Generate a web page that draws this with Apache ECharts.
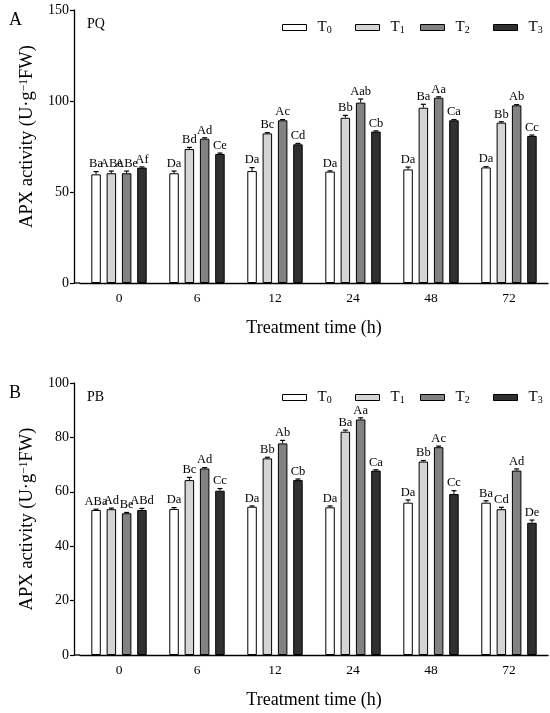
<!DOCTYPE html>
<html>
<head>
<meta charset="utf-8">
<script src="https://cdn.jsdelivr.net/npm/echarts@6/dist/echarts.min.js"></script>
<style>html,body{margin:0;padding:0;background:#fff}#main{width:550px;height:713px}</style>
</head>
<body>
<div id="main"></div>
<script>
// time points (h)
var categories = ['0', '6', '12', '24', '48', '72'];
var treatments = ['T0', 'T1', 'T2', 'T3'];
var barColors = ['#ffffff', '#d4d4d4', '#828282', '#303030'];

// A: PQ
var pqMean = [
	[59.7, 60.3, 61.5, 61.2, 62.4, 63.5],
	[60.3, 73.6, 82.2, 90.8, 96.3, 88.1],
	[60.3, 79.3, 89.4, 99.1, 101.8, 97.6],
	[63.4, 70.9, 76.2, 83.2, 89.4, 80.8]
];
var pqErr = [
	[1.5, 1.2, 1.9, 0.4, 1.3, 0.4],
	[1.2, 0.9, 0.4, 1.3, 1.9, 0.5],
	[1.2, 0.5, 0.4, 2.0, 0.5, 0.4],
	[0.4, 0.5, 0.5, 0.4, 0.4, 0.5]
];
var pqLetters = [
	['Ba', 'Da', 'Da', 'Da', 'Da', 'Da'],
	['ABe', 'Bd', 'Bc', 'Bb', 'Ba', 'Bb'],
	['ABe', 'Ad', 'Ac', 'Aab', 'Aa', 'Ab'],
	['Af', 'Ce', 'Cd', 'Cb', 'Ca', 'Cc']
];

// B: PB
var pbMean = [
	[53.3, 53.7, 54.5, 54.3, 56.0, 56.0],
	[53.6, 64.3, 72.3, 82.1, 71.1, 53.6],
	[52.1, 68.6, 77.8, 86.6, 76.4, 67.8],
	[53.3, 60.4, 64.3, 67.8, 59.2, 48.6]
];
var pbErr = [
	[0.3, 0.5, 0.3, 0.5, 1.0, 0.7],
	[0.4, 1.0, 0.4, 0.6, 0.4, 0.7],
	[0.3, 0.3, 1.1, 0.6, 0.4, 0.6],
	[0.6, 0.8, 0.4, 0.3, 1.2, 1.0]
];
var pbLetters = [
	['ABa', 'Da', 'Da', 'Da', 'Da', 'Ba'],
	['Ad', 'Bc', 'Bb', 'Ba', 'Bb', 'Cd'],
	['Be', 'Ad', 'Ab', 'Aa', 'Ac', 'Ad'],
	['ABd', 'Cc', 'Cb', 'Ca', 'Cc', 'De']
];

var FONT = '"Liberation Serif", "Times New Roman", serif';
var barW = 9.5, barGapPx = 5.8;
var pitch = barW + barGapPx;

var panels = [
	{ top: 10, height: 273, max: 150, interval: 50, mean: pqMean, err: pqErr, letters: pqLetters, tag: 'A', name: 'PQ', legendTop: 15, namePad: 20 },
	{ top: 383, height: 272, max: 100, interval: 20, mean: pbMean, err: pbErr, letters: pbLetters, tag: 'B', name: 'PB', legendTop: 385, namePad: 0 }
];
var gridLeft = 80, gridRight = 2, yOffset = 6;
var legendLeft = [277, 350, 415, 488];

function errRender(k, letters) {
	return function(params, api) {
		var i = api.value(0), v = api.value(1), e = api.value(2);
		var c = api.coord([i, v]);
		var t = api.coord([i, v + e]);
		var x = c[0] + (k - 1.5) * pitch;
		return {
			type: 'group',
			children: [
				{ type: 'line', shape: { x1: x, y1: c[1], x2: x, y2: t[1] }, style: { stroke: '#000', lineWidth: 1 } },
				{ type: 'line', shape: { x1: x - 2.5, y1: t[1], x2: x + 2.5, y2: t[1] }, style: { stroke: '#000', lineWidth: 1.2 } },
				{ type: 'text', x: x, y: t[1] - 1, style: { text: letters[i], fill: '#000', font: '12.5px ' + FONT, textAlign: 'center', textVerticalAlign: 'bottom' } }
			]
		};
	};
}

var option = {
	animation: false,
	backgroundColor: '#fff',
	grid: [],
	xAxis: [],
	yAxis: [],
	legend: [],
	title: [],
	series: [],
	graphic: []
};

var richT = {
	m: { fontFamily: FONT, fontSize: 15, color: '#000', lineHeight: 16 },
	sub: { fontFamily: FONT, fontSize: 10, color: '#000', verticalAlign: 'bottom', lineHeight: 10 }
};

panels.forEach(function(p, g) {
	option.grid.push({ left: gridLeft, right: gridRight, top: p.top, height: p.height });
	option.xAxis.push({
		type: 'category', gridIndex: g, data: categories,
		name: 'Treatment time (h)', nameLocation: 'middle', nameGap: 36,
		nameTextStyle: { fontFamily: FONT, fontSize: 18, color: '#000' },
		axisLine: { lineStyle: { color: '#000', width: 1.3 } },
		axisTick: { alignWithLabel: true, length: 3, lineStyle: { color: '#000', width: 1.2 } },
		axisLabel: { fontFamily: FONT, fontSize: 13.5, color: '#000', margin: 8 }
	});
	option.yAxis.push({
		type: 'value', gridIndex: g, min: 0, max: p.max, interval: p.interval, offset: yOffset,
		name: 'APX activity (U·g{sup|−1}FW)', nameLocation: 'middle', nameGap: 32, nameRotate: 90,
		nameTextStyle: {
			fontFamily: FONT, fontSize: 18.5, color: '#000', padding: [0, 0, 0, p.namePad],
			rich: { sup: { fontFamily: FONT, fontSize: 11.5, color: '#000', verticalAlign: 'top', lineHeight: 12 } }
		},
		splitLine: { show: false },
		axisLine: { show: true, lineStyle: { color: '#000', width: 1.3 } },
		axisTick: { show: true, length: 4, lineStyle: { color: '#000', width: 1.2 } },
		axisLabel: { fontFamily: FONT, fontSize: 14, color: '#000', margin: 5 }
	});
	option.title.push({ text: p.tag, left: 4, top: p.top - 4, textStyle: { fontFamily: FONT, fontSize: 18, fontWeight: 'normal', color: '#000' } });
	option.title.push({ text: p.name, left: 82, top: p.top + 2, textStyle: { fontFamily: FONT, fontSize: 14, fontWeight: 'normal', color: '#000' } });

	treatments.forEach(function(tn, k) {
		option.legend.push({
			data: [tn], left: legendLeft[k], top: p.legendTop,
			icon: 'rect', itemWidth: 24, itemHeight: 6,
			selectedMode: false,
			itemStyle: { borderWidth: 1, borderColor: '#000' },
			formatter: function(n) { return '{m|T}{sub|' + n.slice(1) + '}'; },
			textStyle: { padding: [0, 0, 0, 6], rich: richT }
		});
		option.series.push({
			name: tn, type: 'bar', xAxisIndex: g, yAxisIndex: g,
			data: p.mean[k], barWidth: barW, barGap: (barGapPx / barW * 100) + '%',
			itemStyle: { color: barColors[k], borderColor: '#000', borderWidth: 1 }
		});
		var errData = p.mean[k].map(function(v, i) { return [i, v, p.err[k][i]]; });
		option.series.push({
			name: 'err' + g + k, type: 'custom', xAxisIndex: g, yAxisIndex: g, z: 5,
			renderItem: errRender(k, p.letters[k]),
			encode: { x: 0, y: 1 },
			data: errData
		});
	});

	// join x axis line to the offset y axis
	option.graphic.push({
		type: 'line', shape: { x1: gridLeft - yOffset, y1: p.top + p.height, x2: gridLeft, y2: p.top + p.height },
		style: { stroke: '#000', lineWidth: 1.3 }
	});
});

var chart = echarts.init(document.getElementById('main'));
chart.setOption(option);
</script>
</body>
</html>
